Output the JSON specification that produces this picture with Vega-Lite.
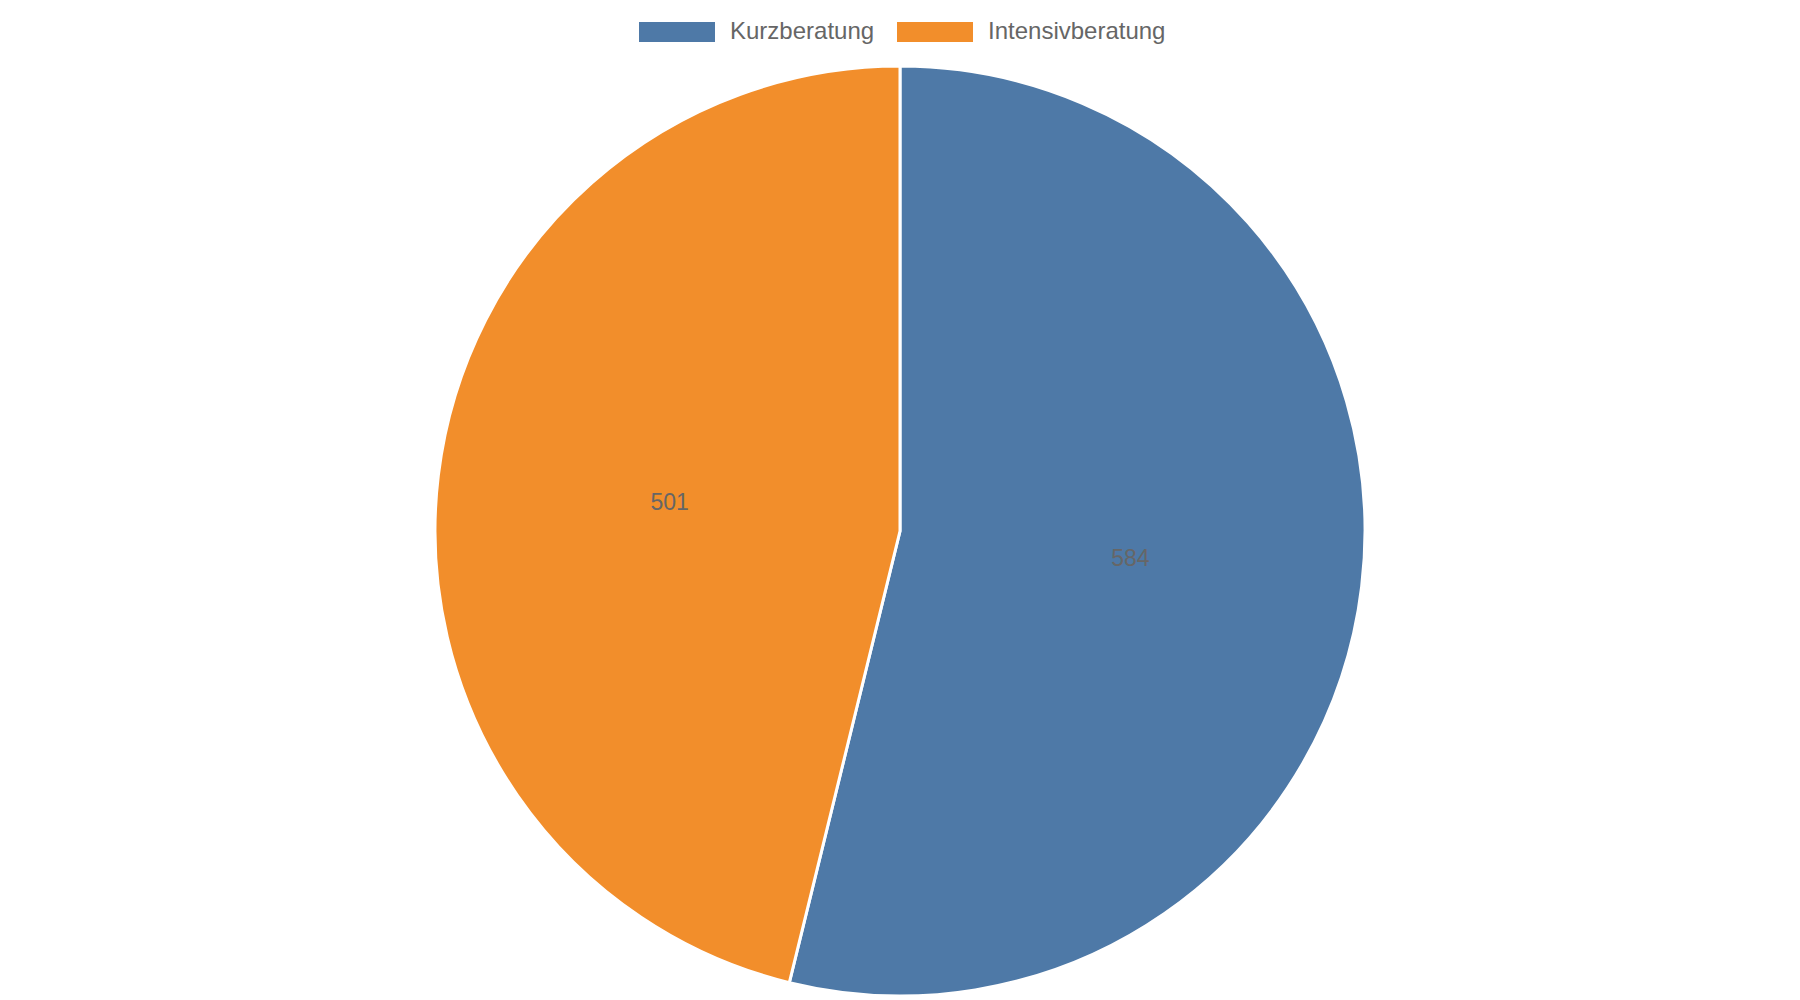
{
  "$schema": "https://vega.github.io/schema/vega-lite/v6.json",
  "width": 1800,
  "height": 1062,
  "autosize": "none",
  "padding": 0,
  "background": "white",
  "data": {"values": [
    {"category": "Kurzberatung", "value": 584},
    {"category": "Intensivberatung", "value": 501}
  ]},
  "encoding": {
    "theta": {"field": "value", "type": "quantitative", "stack": true},
    "order": {"field": "value", "type": "quantitative", "sort": "descending"}
  },
  "layer": [
    {
      "mark": {"type": "arc", "outerRadius": 465, "stroke": "white", "strokeWidth": 3},
      "encoding": {
        "color": {
          "field": "category", "type": "nominal",
          "scale": {"domain": ["Kurzberatung", "Intensivberatung"], "range": ["#4e79a7", "#f28e2b"]},
          "legend": {
            "orient": "none", "direction": "horizontal", "title": null,
            "legendX": 639, "legendY": -6,
            "symbolType": "M-1,-0.263H1V0.263H-1Z", "symbolSize": 5776,
            "symbolStrokeWidth": 0,
            "labelFont": "Liberation Sans", "labelFontSize": 24, "labelColor": "#666666",
            "labelLimit": 400,
            "labelOffset": 15, "columnPadding": 22
          }
        }
      }
    },
    {
      "mark": {"type": "text", "radius": 232, "font": "Liberation Sans", "fontSize": 23, "fill": "#666666"},
      "encoding": {"text": {"field": "value", "type": "quantitative"}}
    }
  ]
}
